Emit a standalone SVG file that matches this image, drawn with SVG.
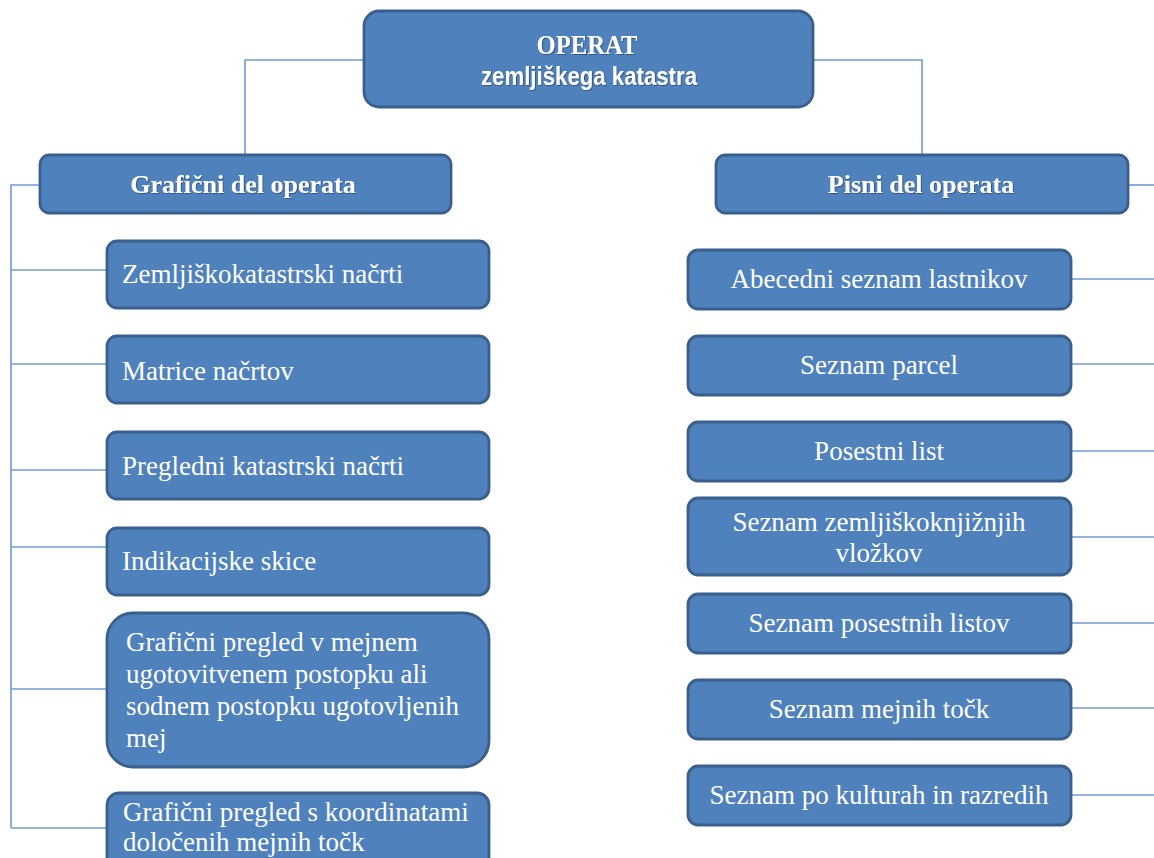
<svg xmlns="http://www.w3.org/2000/svg" width="1154" height="858" viewBox="0 0 1154 858">
<style>
.box{fill:#4F81BD;stroke:#3A5F8D;stroke-width:2.8}
.conn{fill:none;stroke:#6F9BD2;stroke-width:1.6}
.t{font-family:"Liberation Serif","Times New Roman",serif;font-size:27px;fill:#FFFFFF}
.h{font-family:"Liberation Serif","Times New Roman",serif;font-size:26px;font-weight:bold;fill:#FFFFFF}
.s{font-family:"Liberation Sans",Arial,sans-serif;font-size:25px;font-weight:bold;fill:#FFFFFF}
.c{text-anchor:middle}
</style>
<defs>
<filter id="sh" x="-5%" y="-20%" width="110%" height="140%">
<feDropShadow dx="0.8" dy="0.8" stdDeviation="0.7" flood-color="#1E3555" flood-opacity="0.7"/>
</filter>
</defs>
<g id="connectors">
<polyline class="conn" points="364,60 245,60 245,155"/>
<polyline class="conn" points="813,60 922,60 922,155"/>
<polyline class="conn" points="40,185 11,185 11,828"/>
<line class="conn" x1="11" y1="270" x2="107" y2="270"/>
<line class="conn" x1="11" y1="364" x2="107" y2="364"/>
<line class="conn" x1="11" y1="470" x2="107" y2="470"/>
<line class="conn" x1="11" y1="547" x2="107" y2="547"/>
<line class="conn" x1="11" y1="689" x2="107" y2="689"/>
<line class="conn" x1="11" y1="828" x2="107" y2="828"/>
<line class="conn" x1="1128" y1="185" x2="1154" y2="185"/>
<line class="conn" x1="1071" y1="279" x2="1154" y2="279"/>
<line class="conn" x1="1071" y1="364" x2="1154" y2="364"/>
<line class="conn" x1="1071" y1="451" x2="1154" y2="451"/>
<line class="conn" x1="1071" y1="537" x2="1154" y2="537"/>
<line class="conn" x1="1071" y1="623" x2="1154" y2="623"/>
<line class="conn" x1="1071" y1="708" x2="1154" y2="708"/>
<line class="conn" x1="1071" y1="795" x2="1154" y2="795"/>
</g>
<g id="root">
<rect class="box" x="364" y="11" width="449" height="96" rx="15"/>
<text class="h c" x="587" y="54" style="font-size:28px" textLength="101" lengthAdjust="spacingAndGlyphs" filter="url(#sh)">OPERAT</text>
<text class="s c" x="589" y="85" textLength="216" lengthAdjust="spacingAndGlyphs" filter="url(#sh)">zemljiškega katastra</text>
</g>
<g id="graficni">
<rect class="box" x="40" y="155" width="411" height="58" rx="9"/>
<text class="h c" x="243" y="193" filter="url(#sh)">Grafični del operata</text>
</g>
<g id="pisni">
<rect class="box" x="716" y="155" width="412" height="58" rx="9"/>
<text class="h c" x="921" y="193" filter="url(#sh)">Pisni del operata</text>
</g>
<g id="g1">
<rect class="box" x="107" y="241" width="382" height="67" rx="10"/>
<text class="t" x="122" y="283">Zemljiškokatastrski načrti</text>
</g>
<g id="g2">
<rect class="box" x="107" y="336" width="382" height="67" rx="10"/>
<text class="t" x="122" y="380">Matrice načrtov</text>
</g>
<g id="g3">
<rect class="box" x="107" y="432" width="382" height="67" rx="10"/>
<text class="t" x="122" y="475">Pregledni katastrski načrti</text>
</g>
<g id="g4">
<rect class="box" x="107" y="528" width="382" height="67" rx="10"/>
<text class="t" x="122" y="570">Indikacijske skice</text>
</g>
<g id="g5">
<rect class="box" x="107" y="613" width="382" height="154" rx="26"/>
<text class="t" x="126" y="651">Grafični pregled v mejnem</text>
<text class="t" x="126" y="683">ugotovitvenem postopku ali</text>
<text class="t" x="126" y="715">sodnem postopku ugotovljenih</text>
<text class="t" x="126" y="747">mej</text>
</g>
<g id="g6">
<rect class="box" x="107" y="793" width="382" height="80" rx="12"/>
<text class="t" x="123" y="821">Grafični pregled s koordinatami</text>
<text class="t" x="123" y="851">določenih mejnih točk</text>
</g>
<g id="p1">
<rect class="box" x="688" y="250" width="383" height="59" rx="10"/>
<text class="t c" x="879" y="288">Abecedni seznam lastnikov</text>
</g>
<g id="p2">
<rect class="box" x="688" y="336" width="383" height="59" rx="10"/>
<text class="t c" x="879" y="374">Seznam parcel</text>
</g>
<g id="p3">
<rect class="box" x="688" y="422" width="383" height="59" rx="10"/>
<text class="t c" x="879" y="460">Posestni list</text>
</g>
<g id="p4">
<rect class="box" x="688" y="498" width="383" height="77" rx="10"/>
<text class="t c" x="879" y="531">Seznam zemljiškoknjižnjih</text>
<text class="t c" x="879" y="562">vložkov</text>
</g>
<g id="p5">
<rect class="box" x="688" y="594" width="383" height="59" rx="10"/>
<text class="t c" x="879" y="632">Seznam posestnih listov</text>
</g>
<g id="p6">
<rect class="box" x="688" y="680" width="383" height="59" rx="10"/>
<text class="t c" x="879" y="718">Seznam mejnih točk</text>
</g>
<g id="p7">
<rect class="box" x="688" y="766" width="383" height="59" rx="10"/>
<text class="t c" x="879" y="804">Seznam po kulturah in razredih</text>
</g>
</svg>
